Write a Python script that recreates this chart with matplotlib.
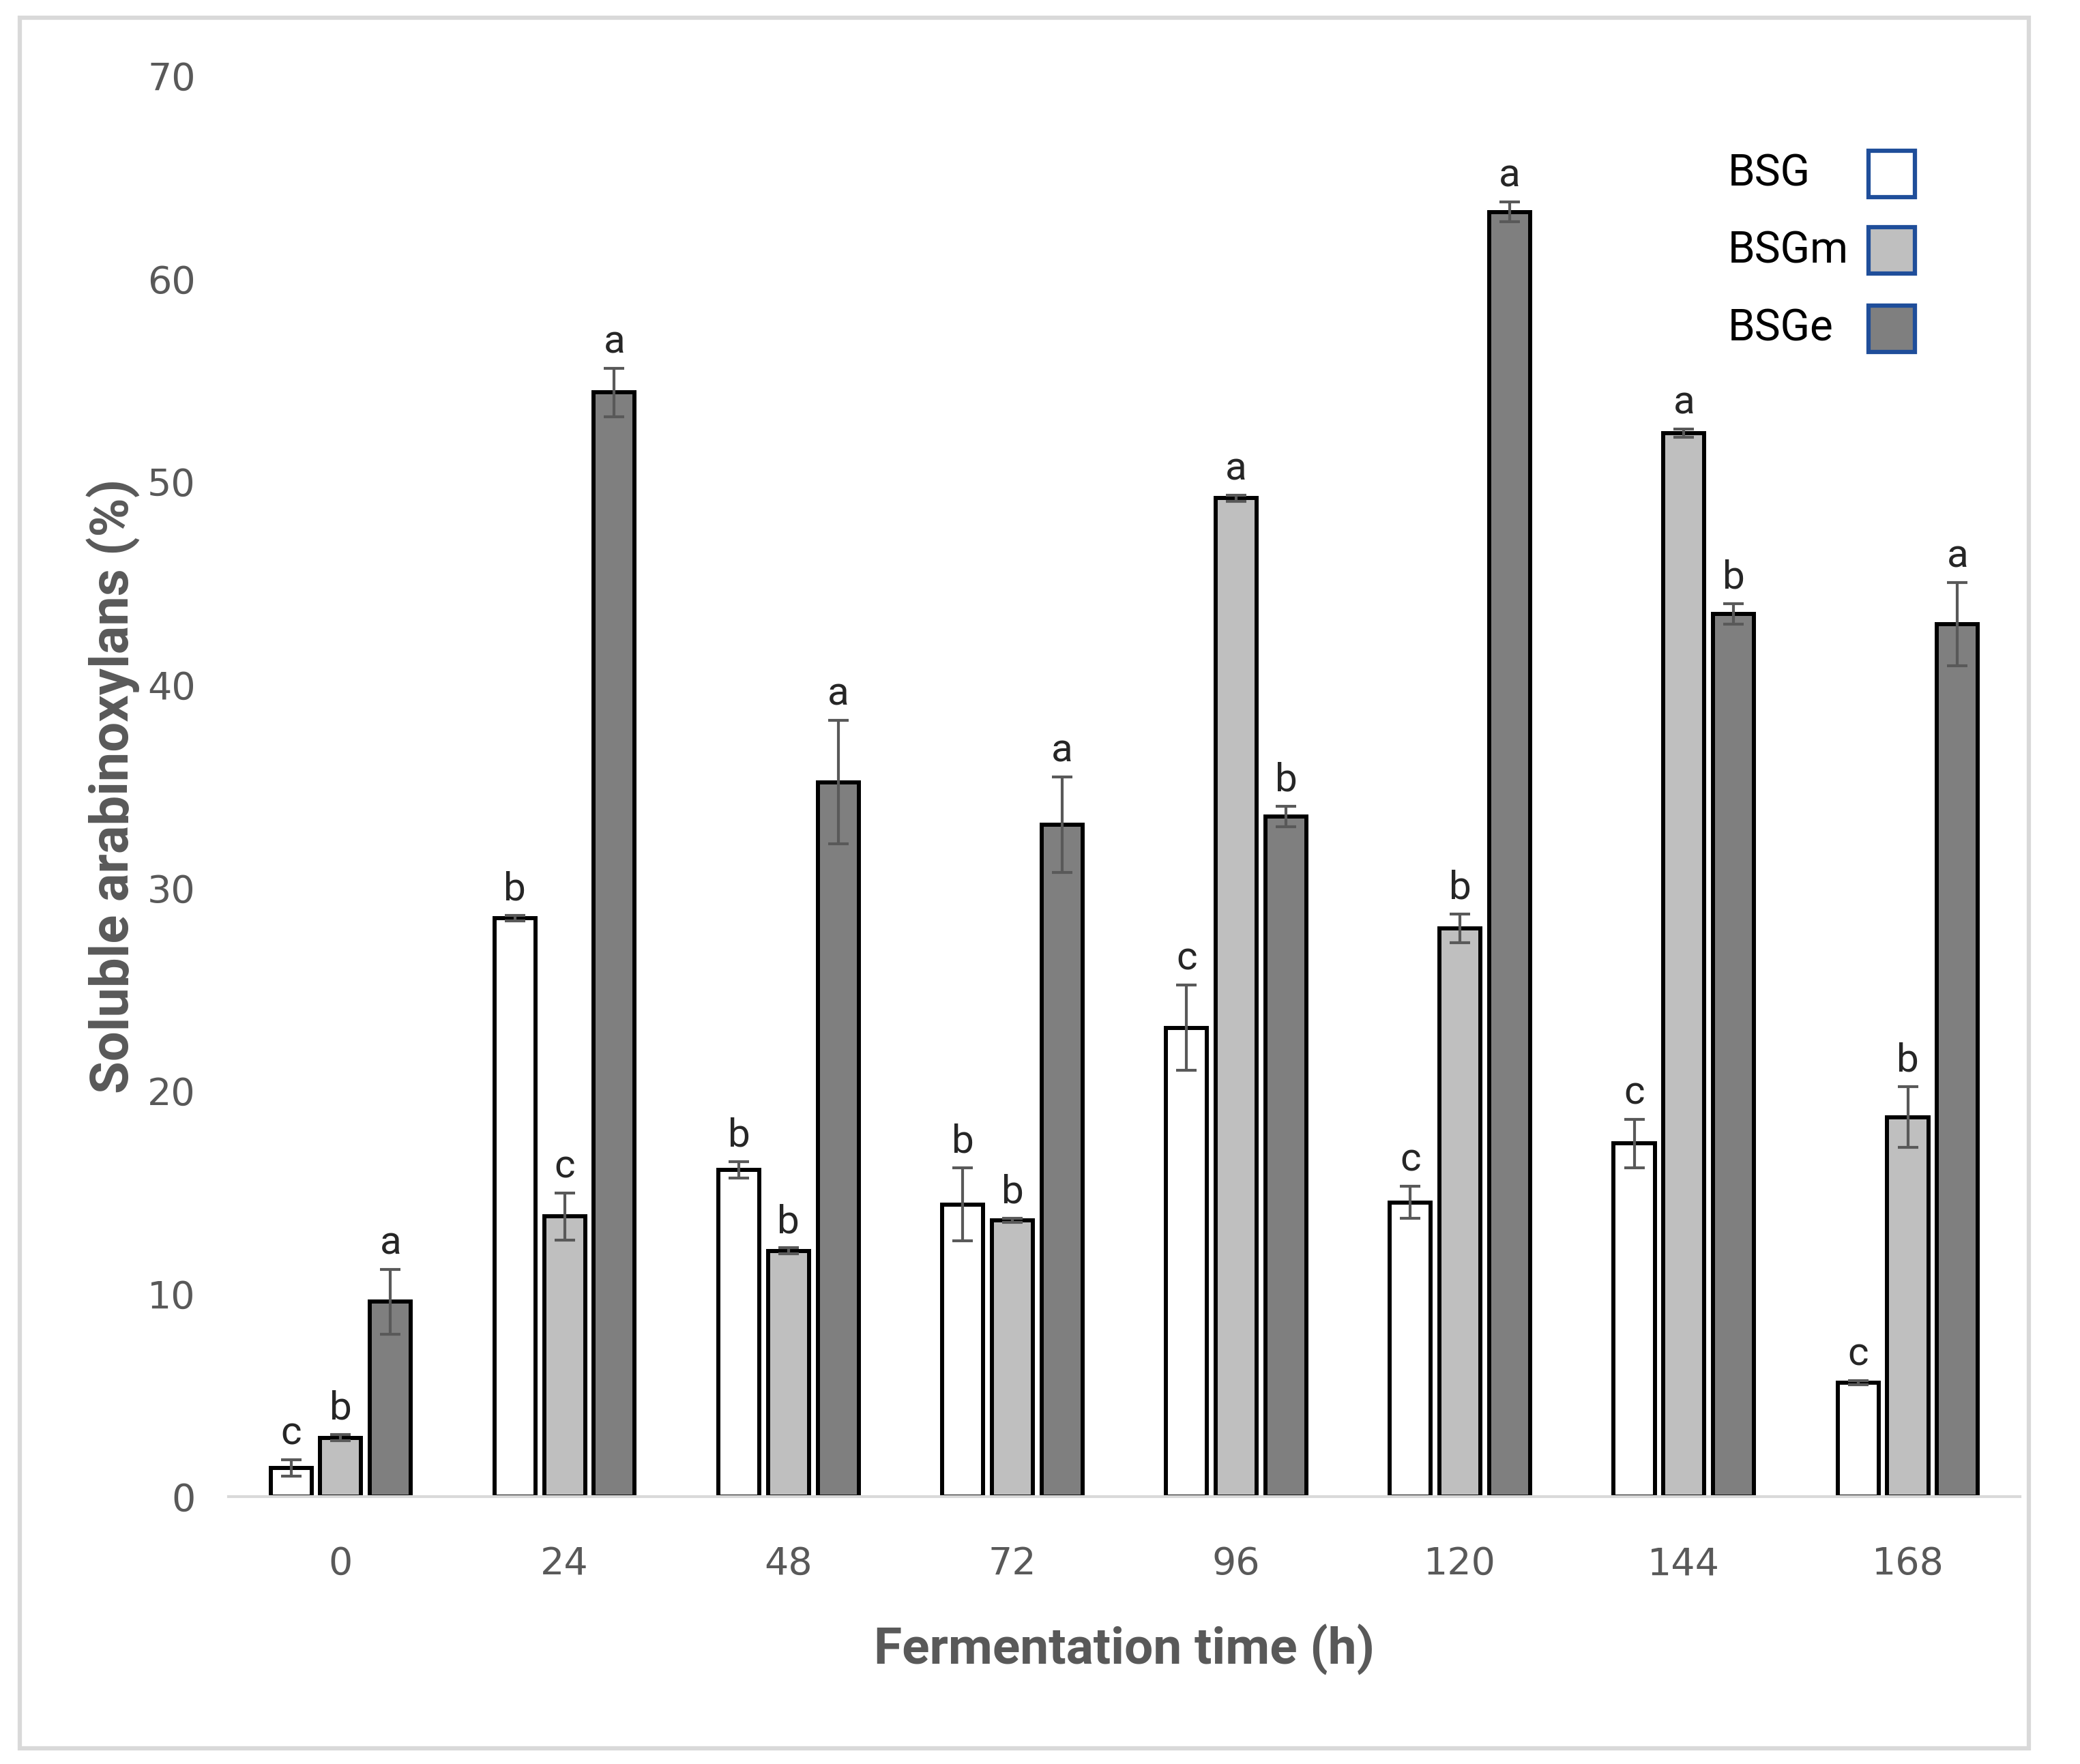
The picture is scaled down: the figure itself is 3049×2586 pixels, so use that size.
import numpy as np
import matplotlib
matplotlib.use('Agg')
import matplotlib.pyplot as plt
from matplotlib.patches import Rectangle

# Data
times = ['0', '24', '48', '72', '96', '120', '144', '168']
series = ['BSG', 'BSGm', 'BSGe']
bsg = [1.4, 28.5, 16.1, 14.4, 23.1, 14.5, 17.4, 5.6]
bsgm = [2.9, 13.8, 12.1, 13.6, 49.2, 28.0, 52.4, 18.7]
bsge = [9.6, 54.4, 35.2, 33.1, 33.5, 63.3, 43.5, 43.0]
bsg_err = [0.4, 0.15, 0.4, 1.8, 2.1, 0.8, 1.2, 0.1]
bsgm_err = [0.15, 1.15, 0.15, 0.1, 0.15, 0.7, 0.2, 1.5]
bsge_err = [1.6, 1.2, 3.05, 2.35, 0.5, 0.5, 0.5, 2.05]
bsg_let = ['c', 'b', 'b', 'b', 'c', 'c', 'c', 'c']
bsgm_let = ['b', 'c', 'b', 'b', 'a', 'b', 'a', 'b']
bsge_let = ['a', 'a', 'a', 'a', 'b', 'a', 'b', 'a']

values = [bsg, bsgm, bsge]
errors = [bsg_err, bsgm_err, bsge_err]
letters = [bsg_let, bsgm_let, bsge_let]
colors = ['white', '#bfbfbf', '#7f7f7f']

font_narrow = ['Liberation Sans Narrow', 'Roboto', 'DejaVu Sans']
gray = '#595959'

fig = plt.figure(figsize=(30.49, 25.86), dpi=100)
ax = fig.add_axes([0.110, 0.1516, 0.861, 0.8054])

# outer frame
fig.patches.append(Rectangle((0.0095, 0.009), 0.966, 0.981, transform=fig.transFigure,
                             fill=False, edgecolor='#d9d9d9', linewidth=4.5))

x = np.arange(len(times))
width = 0.183
offset = 0.222
for k in range(3):
    pos = x + (k - 1) * offset
    ax.bar(pos, values[k], width, color=colors[k], edgecolor='black', linewidth=4.3,
           yerr=errors[k], error_kw=dict(ecolor=gray, elinewidth=3, capsize=11, capthick=3),
           zorder=2)
    for i in range(len(times)):
        ax.text(pos[i], values[k][i] + errors[k][i] + 0.35, letters[k][i],
                ha='center', va='bottom', fontsize=42, color='#262626', family=font_narrow)

ax.set_xlim(-0.5, 7.5)
ax.set_ylim(0, 70)
ax.set_yticks(range(0, 71, 10))
ax.set_xticks(x)
ax.set_xticklabels(times)
ax.tick_params(axis='both', length=0, labelsize=40, labelcolor=gray)
ax.tick_params(axis='y', pad=35)
ax.tick_params(axis='x', pad=52)
for s in ['top', 'right', 'left']:
    ax.spines[s].set_visible(False)
ax.spines['bottom'].set_color('#d9d9d9')
ax.spines['bottom'].set_linewidth(3)

ax.set_ylabel('Soluble arabinoxylans (%)', fontsize=56, fontweight='bold', color=gray,
              family=font_narrow, labelpad=8)
ax.set_xlabel('Fermentation time (h)', fontsize=54, fontweight='bold', color=gray,
              family=font_narrow, labelpad=44)

# manual legend
leg_y = [0.931, 0.877, 0.822]
for name, c, yy in zip(series, colors, leg_y):
    ax.text(0.837, yy, name, transform=ax.transAxes, ha='left', va='center',
            fontsize=46, color='black', family=font_narrow)
    ax.add_patch(Rectangle((0.9156, yy - 0.0163), 0.0259, 0.0327, transform=ax.transAxes,
                           facecolor=c, edgecolor='#1f4e9a', linewidth=4.5, clip_on=False))

fig.savefig('out.png', dpi=100, facecolor='white')
